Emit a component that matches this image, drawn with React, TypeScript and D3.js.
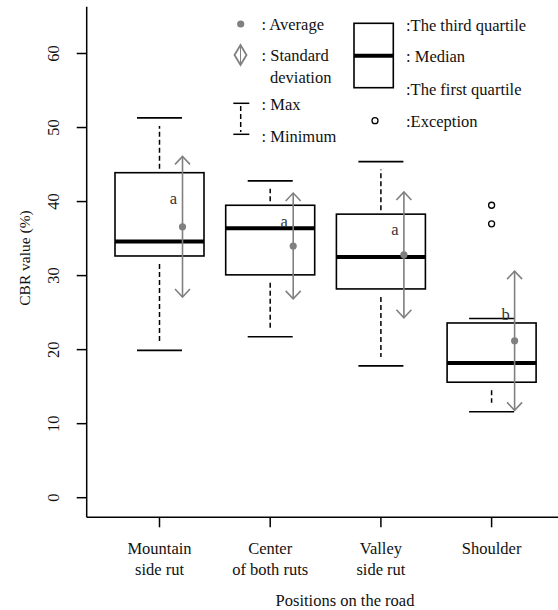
import React from "react";
import * as d3 from "d3";

const categories = ["Mountain side rut", "Center of both ruts", "Valley side rut", "Shoulder"];
const categoryLines = [["Mountain", "side rut"], ["Center", "of both ruts"], ["Valley", "side rut"], ["Shoulder"]];
const q1 = [32.65, 30.1, 28.2, 15.6];
const q3 = [43.9, 39.5, 38.3, 23.6];
const medians = [34.6, 36.4, 32.5, 18.2];
const maxs = [51.3, 42.8, 45.4, 24.2];
const mins = [19.9, 21.75, 17.8, 11.6];
const means = [36.6, 34.0, 32.8, 21.2];
const sds = [9.5, 7.15, 8.5, 9.4];
const outliers = [[], [], [], [39.5, 37.0]];
const letters = ["a", "a", "a", "b"];
const letterY = [40.4, 37.2, 36.1, 24.7];
const yTicks = [0, 10, 20, 30, 40, 50, 60];

const FONT = "Liberation Serif, Times New Roman, serif";
const GRAY = "#808080";
const INK = "#111";

export default function App() {
  const W = 558, H = 610;
  const y = d3.scaleLinear().domain([0, 60]).range([497.7, 53.5]);
  const x = d3.scalePoint<string>().domain(categories).range([159.5, 491.6]);
  const left = 86.7, bottom = 517.3;
  const boxHalf = 44.5, capHalf = 22.5, meanOff = 23;
  const fs = 16.5;

  const arrowHead = (cx: number, cy: number, dir: number) =>
    `M${cx - 7.5},${cy + dir * 8} L${cx},${cy} L${cx + 7.5},${cy + dir * 8}`;

  return (
    <svg width={W} height={H} style={{ position: "absolute", left: 0, top: 0, background: "#fff", fontFamily: FONT }}>
      <rect x={0} y={0} width={W} height={H} fill="#fff" />
      {/* axes */}
      <line x1={left} x2={left} y1={6.7} y2={bottom} stroke="#000" strokeWidth={1.5} />
      <line x1={left} x2={W} y1={bottom} y2={bottom} stroke="#000" strokeWidth={1.5} />
      {yTicks.map((t) => (
        <g key={t}>
          <line x1={left - 10} x2={left} y1={y(t)} y2={y(t)} stroke="#000" strokeWidth={1.5} />
          <text transform={`translate(59,${y(t)}) rotate(-90)`} textAnchor="middle" fontSize={fs} fill={INK}>{t}</text>
        </g>
      ))}
      <text transform={`translate(30,258) rotate(-90)`} textAnchor="middle" fontSize={15.5} fill={INK}>CBR value (%)</text>
      {categories.map((c, i) => (
        <g key={c}>
          <line x1={x(c)!} x2={x(c)!} y1={bottom} y2={bottom + 10} stroke="#000" strokeWidth={1.5} />
          {categoryLines[i].map((l, j) => (
            <text key={j} x={x(c)!} y={554 + j * 21} textAnchor="middle" fontSize={fs} fill={INK}>{l}</text>
          ))}
        </g>
      ))}
      <text x={345} y={606} textAnchor="middle" fontSize={fs} fill={INK}>Positions on the road</text>

      {/* boxes */}
      {categories.map((c, i) => {
        const cx = x(c)!;
        const top = y(q3[i]), bot = y(q1[i]);
        const mx = cx + meanOff;
        const upStart = top - 4, upEnd = y(maxs[i]) + 8;
        const loStart = bot + 2, loEnd = y(mins[i]) - 9;
        return (
          <g key={c}>
            {upStart > upEnd && (
              <line x1={cx} x2={cx} y1={upStart} y2={upEnd} stroke="#000" strokeWidth={1.5} strokeDasharray="5,3" />
            )}
            {loEnd > loStart && (
              <line x1={cx} x2={cx} y1={loStart + 6} y2={loEnd} stroke="#000" strokeWidth={1.5} strokeDasharray="5,3" />
            )}
            <line x1={cx - capHalf} x2={cx + capHalf} y1={y(maxs[i])} y2={y(maxs[i])} stroke="#000" strokeWidth={1.6} />
            <line x1={cx - capHalf} x2={cx + capHalf} y1={y(mins[i])} y2={y(mins[i])} stroke="#000" strokeWidth={1.6} />
            <rect x={cx - boxHalf} y={top} width={boxHalf * 2} height={bot - top} fill="none" stroke="#000" strokeWidth={1.6} />
            <line x1={cx - boxHalf} x2={cx + boxHalf} y1={y(medians[i])} y2={y(medians[i])} stroke="#000" strokeWidth={4} />
            {outliers[i].map((o, k) => (
              <circle key={k} cx={cx} cy={y(o)} r={3} fill="none" stroke="#000" strokeWidth={1.3} />
            ))}
            <text x={mx - 9} y={y(letterY[i]) + 5} textAnchor="middle" fontSize={fs} fill="#333">{letters[i]}</text>
            <line x1={mx} x2={mx} y1={y(means[i] + sds[i])} y2={y(means[i] - sds[i])} stroke={GRAY} strokeWidth={1.6} />
            <path d={arrowHead(mx, y(means[i] + sds[i]), 1)} fill="none" stroke={GRAY} strokeWidth={1.6} />
            <path d={arrowHead(mx, y(means[i] - sds[i]), -1)} fill="none" stroke={GRAY} strokeWidth={1.6} />
            <circle cx={mx} cy={y(means[i])} r={3.6} fill={GRAY} />
          </g>
        );
      })}

      {/* legend */}
      <g fontSize={fs} fill={INK}>
        <circle cx={240.7} cy={24} r={3.6} fill={GRAY} />
        <text x={261.5} y={30}>: Average</text>
        <path d="M240.5,45 L246.5,55 L240.5,65 L234.5,55 Z" fill="none" stroke={GRAY} strokeWidth={1.8} />
        <line x1={240.5} x2={240.5} y1={46} y2={64} stroke={GRAY} strokeWidth={1} />
        <text x={261.5} y={61}>: Standard</text>
        <text x={270} y={83}>deviation</text>
        <line x1={233.3} x2={249.3} y1={103.3} y2={103.3} stroke="#000" strokeWidth={1.5} />
        <line x1={240.7} x2={240.7} y1={106} y2={132} stroke="#000" strokeWidth={1.5} strokeDasharray="5,3" />
        <line x1={233.3} x2={249.3} y1={134.3} y2={134.3} stroke="#000" strokeWidth={1.5} />
        <text x={261.5} y={110}>: Max</text>
        <text x={261.5} y={142}>: Minimum</text>
        <rect x={354} y={23.3} width={39.3} height={64.4} fill="none" stroke="#000" strokeWidth={1.6} />
        <line x1={354} x2={393.3} y1={55.7} y2={55.7} stroke="#000" strokeWidth={4} />
        <text x={406} y={31}>:The third quartile</text>
        <text x={406} y={62}>: Median</text>
        <text x={406} y={95}>:The first quartile</text>
        <circle cx={375} cy={120.7} r={3} fill="none" stroke="#000" strokeWidth={1.3} />
        <text x={406} y={127}>:Exception</text>
      </g>
    </svg>
  );
}
